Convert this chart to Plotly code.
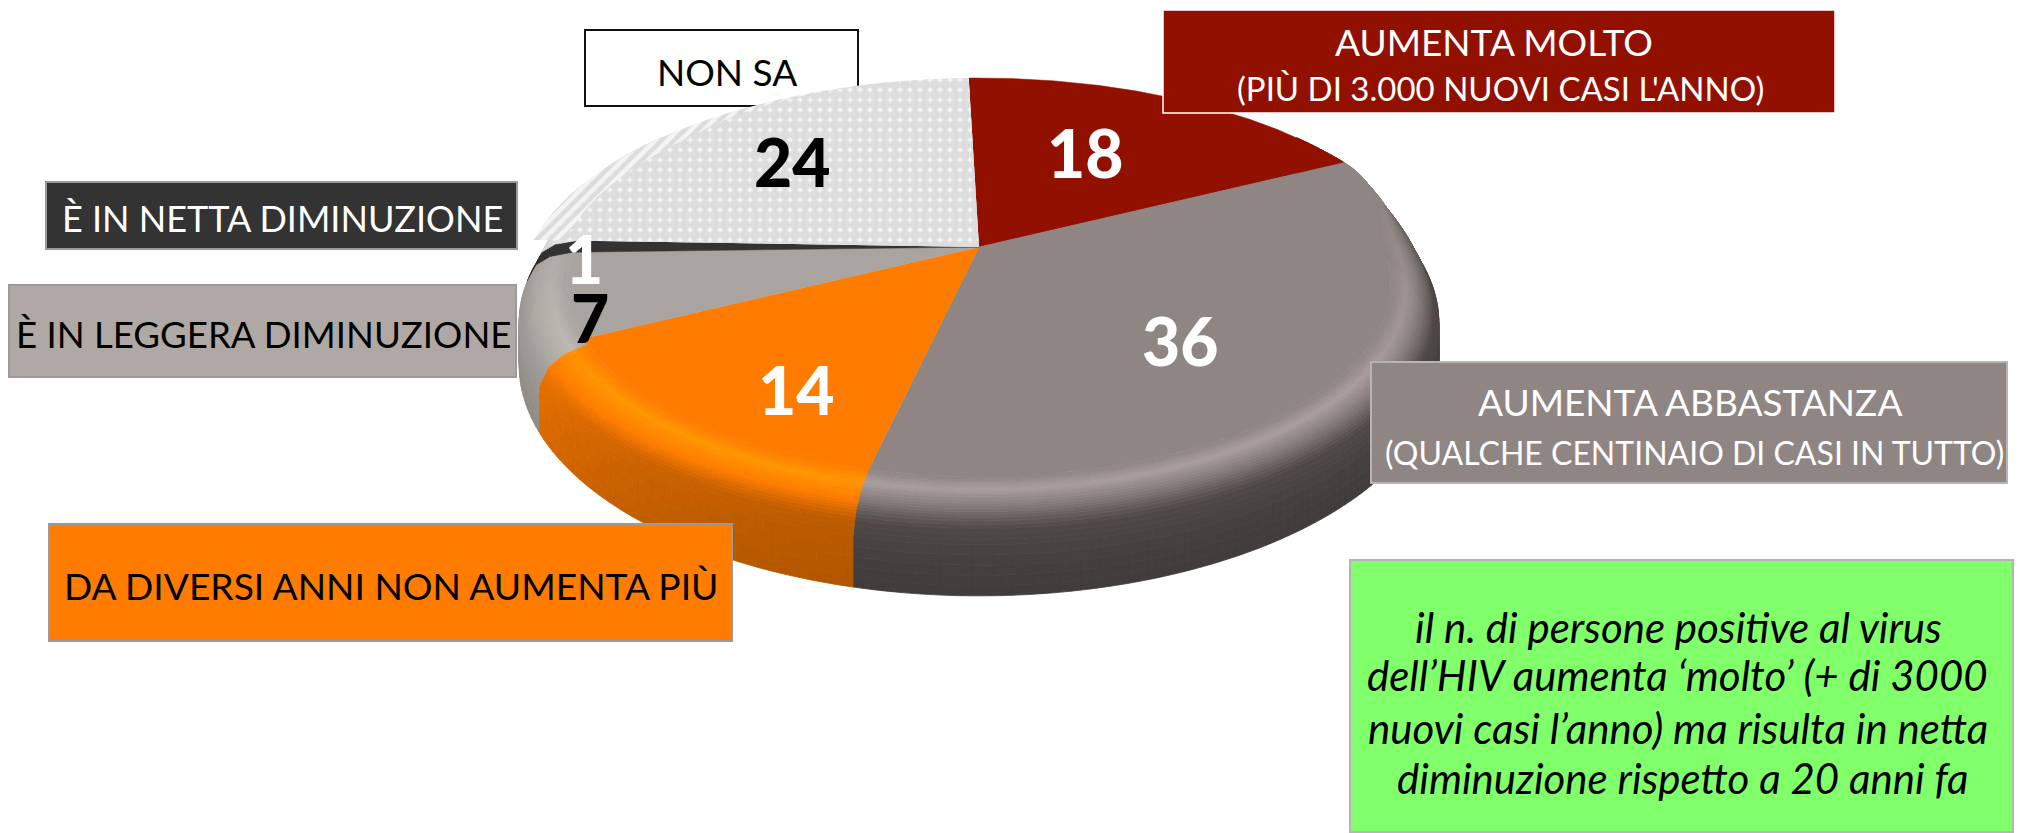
import math
import numpy as np
import plotly.graph_objects as go

# ---------- data ----------
categories = ["AUMENTA MOLTO", "AUMENTA ABBASTANZA", "DA DIVERSI ANNI NON AUMENTA PIÙ",
              "È IN LEGGERA DIMINUZIONE", "È IN NETTA DIMINUZIONE", "NON SA"]
values = [18, 36, 14, 7, 1, 24]

# ---------- styles ----------
slice_colors = ["#921000", "#8F8583", "#FF7C00", "#A9A49F", "#333333", "#E4E4E4"]
# highlight, upper side, lower side, extra darkening towards the front
rim_params = [(1.0, .6, .5, 0), (1.18, .55, .45, 0), (1.2, .92, .86, .2),
              (1.15, .95, .85, 0), (1.0, .9, .8, 0), (1.03, .9, .8, 0)]
value_colors = ["white", "white", "white", "black", "white", "black"]
value_pos = [(1085, 152), (1180, 340), (796, 389), (590, 317), (584, 258), (792, 161)]

FONT = "Lato"
CX, CY, A, B, P = 979.0, 247.0, 449.0, 205.5, 0.216
ROT = -1.6
RIM = 0.10
CORNER = 1.6  # degrees the rounded orange corner gives up on the rim
prof_R = [0, .5, .8, 1, 1]
prof_z = [0, 4, 12, 28, 68]
BANDS = list(np.arange(0, 1, .08)) + list(np.arange(1, 2.4, .14)) + list(np.arange(2.4, 4.01, .2))


def hex2rgb(h):
    return [int(h[i:i + 2], 16) for i in (1, 3, 5)]


def shade(color, m):
    r, g, b = [min(255, int(round(c * m))) for c in hex2rgb(color)]
    return f"#{r:02x}{g:02x}{b:02x}"


def sstep(a, b, x):
    t = min(1, max(0, (x - a) / (b - a)))
    return t * t * (3 - 2 * t)


def rim_width(theta):
    return RIM * sstep(-.45, 0, -math.cos(theta))


def project(r, theta, dz=0.0):
    u, v = r * math.sin(theta), -r * math.cos(theta)
    w = 1 - P * v
    return CX + A * u / w, CY + B * v / w + dz / w


def layer_point(t, theta):
    R = np.interp(t, range(5), prof_R)
    z = np.interp(t, range(5), prof_z)
    bw = rim_width(theta)
    return project(1 - bw + bw * R, theta, z)


def band_mult(t, theta, params):
    h, d1, d2, fd = params
    v = -math.cos(theta)
    f = min(1, max(0, .35 + v))
    hl = 1 + (h - 1) * f
    k = 1 - fd * max(0, v - .45) / .55
    return float(np.interp(t, [0, .6, 1.6, 2.4, 4], [1, hl, (hl + d1 * k) / 2, d1 * k, d2 * k]))


fig = go.Figure()

# cumulative angles come from the values
cum = np.cumsum([0] + values)
edges = [math.radians(ROT + 3.6 * c) for c in cum]
side_edges = list(edges)
side_edges[3] -= math.radians(CORNER)

# side + bevel: bottom band first, grouped by colour
for bi in range(len(BANDS) - 2, -1, -1):
    t0, t1 = BANDS[bi], BANDS[bi + 1]
    groups = {}
    for i in range(len(values)):
        n = max(2, int(values[i] * 3.6))
        th = np.linspace(side_edges[i], side_edges[i + 1], n + 1)
        for a0, a1 in zip(th[:-1], th[1:]):
            am = (a0 + a1) / 2
            if -math.cos(am) < -.6:
                continue
            m = round(band_mult((t0 + t1) / 2, am, rim_params[i]) * 90) / 90
            col = shade(slice_colors[i], m)
            pts = [layer_point(t0, a0), layer_point(t0, a1), layer_point(t1, a1), layer_point(t1, a0)]
            g = groups.setdefault(col, ([], []))
            g[0].extend([p[0] for p in pts] + [pts[0][0], None])
            g[1].extend([p[1] for p in pts] + [pts[0][1], None])
    for col, (xs, ys) in groups.items():
        fig.add_trace(go.Scatter(x=xs, y=ys, mode="lines", fill="toself", fillcolor=col,
                                 line=dict(color=col, width=.8), hoverinfo="skip", showlegend=False))

# top faces
for i in range(len(values)):
    th = np.linspace(edges[i], edges[i + 1], max(3, int(values[i] * 7)))
    if categories[i] == "NON SA":
        # outer hatched band up to the rim, then dots inside
        pts = [project(1.0, a) for a in th]
        xs = [CX] + [p[0] for p in pts] + [CX]
        ys = [CY] + [p[1] for p in pts] + [CY]
        fig.add_trace(go.Scatter(x=xs, y=ys, mode="lines", fill="toself", fillcolor="#F3F3F3",
                                 fillpattern=dict(shape="/", size=9, solidity=.5, fgcolor="#C4C4C4", bgcolor="#F4F4F4"),
                                 line=dict(color="rgba(0,0,0,0)", width=0), hoverinfo="skip", showlegend=False))
        pts = [project(1 - .035 * (1 + math.sin(a) ** 2) * sstep(-1, -.55, -math.cos(a)), a) for a in th]
        xs = [CX] + [p[0] for p in pts] + [CX]
        ys = [CY] + [p[1] for p in pts] + [CY]
        fig.add_trace(go.Scatter(x=xs, y=ys, mode="lines", fill="toself", fillcolor="#F3F3F3",
                                 fillpattern=dict(shape=".", size=10, solidity=.8, fgcolor="#C8C8C8", bgcolor="#F3F3F3"),
                                 line=dict(color="rgba(0,0,0,0)", width=0), hoverinfo="skip", showlegend=False))
        continue
    pts = [project(1 - rim_width(a), a) for a in th]
    xs = [CX] + [p[0] for p in pts] + [CX]
    ys = [CY] + [p[1] for p in pts] + [CY]
    fig.add_trace(go.Scatter(x=xs, y=ys, mode="lines", fill="toself", fillcolor=slice_colors[i],
                             line=dict(color=slice_colors[i], width=.5),
                             hoverinfo="skip", showlegend=False))

# label boxes: (x0, y0, x1, y1, fill, border, width, layer)
boxes = [
    (585, 30, 858, 106, "white", "#111111", 2, "below"),
    (1163, 10, 1835, 113, "#921000", "white", 1.5, "above"),
    (46, 182, 517, 249, "#333333", "#9A9A9A", 2, "above"),
    (9, 285, 516, 377, "#B0A8A4", "#9A9A9A", 2, "above"),
    (49, 524, 732, 641, "#FF7C00", "#9A9A9A", 2, "above"),
    (1371, 362, 2007, 483, "#8F8583", "#B5B5B5", 2, "above"),
    (1350, 560, 2013, 832, "#80FF6A", "#B5B5B5", 2, "above"),
]
shapes = [dict(type="rect", xref="x", yref="y", x0=b[0], y0=b[1], x1=b[2], y1=b[3],
               fillcolor=b[4], line=dict(color=b[5], width=b[6]), layer=b[7]) for b in boxes]

texts = [
    ("NON SA", 727, 71, 37, "black"),
    ("AUMENTA MOLTO", 1494, 41, 37, "white"),
    ("(PIÙ DI 3.000 NUOVI CASI L'ANNO)", 1500, 88, 33, "white"),
    ("È IN NETTA DIMINUZIONE", 282, 218, 36, "white"),
    ("È IN LEGGERA DIMINUZIONE", 263, 334, 36.6, "black"),
    ("DA DIVERSI ANNI NON AUMENTA PIÙ", 391, 585, 37.2, "black"),
    ("AUMENTA ABBASTANZA", 1690, 401, 37, "white"),
    ("(QUALCHE CENTINAIO DI CASI IN TUTTO)", 1694, 452, 32, "white"),
    ("<i>il n. di persone positive al virus</i>", 1678, 627, 42, "black"),
    ("<i>dell’HIV aumenta ‘molto’ (+ di 3000</i>", 1677, 675, 42, "black"),
    ("<i>nuovi casi l’anno) ma risulta in netta</i>", 1678, 728, 42, "black"),
    ("<i>diminuzione rispetto a 20 anni fa</i>", 1682, 778, 42, "black"),
]
annotations = [dict(text=t, x=x, y=y, xref="x", yref="y", showarrow=False,
                    font=dict(family=FONT, size=s, color=c), xanchor="center", yanchor="middle")
               for t, x, y, s, c in texts]
annotations += [dict(text=str(v), x=p[0], y=p[1], xref="x", yref="y", showarrow=False,
                     font=dict(family=FONT, size=66, color=c, weight=900), xanchor="center", yanchor="middle")
                for v, p, c in zip(values, value_pos, value_colors)]

fig.update_layout(
    width=2020, height=833, margin=dict(l=0, r=0, t=0, b=0),
    paper_bgcolor="white", plot_bgcolor="white", showlegend=False,
    xaxis=dict(range=[0, 2020], visible=False, fixedrange=True),
    yaxis=dict(range=[833, 0], visible=False, fixedrange=True),
    shapes=shapes, annotations=annotations,
)
fig.write_html("out.html", config=dict(displayModeBar=False),
               post_script="document.body.style.margin='0';document.body.style.overflow='hidden';")
